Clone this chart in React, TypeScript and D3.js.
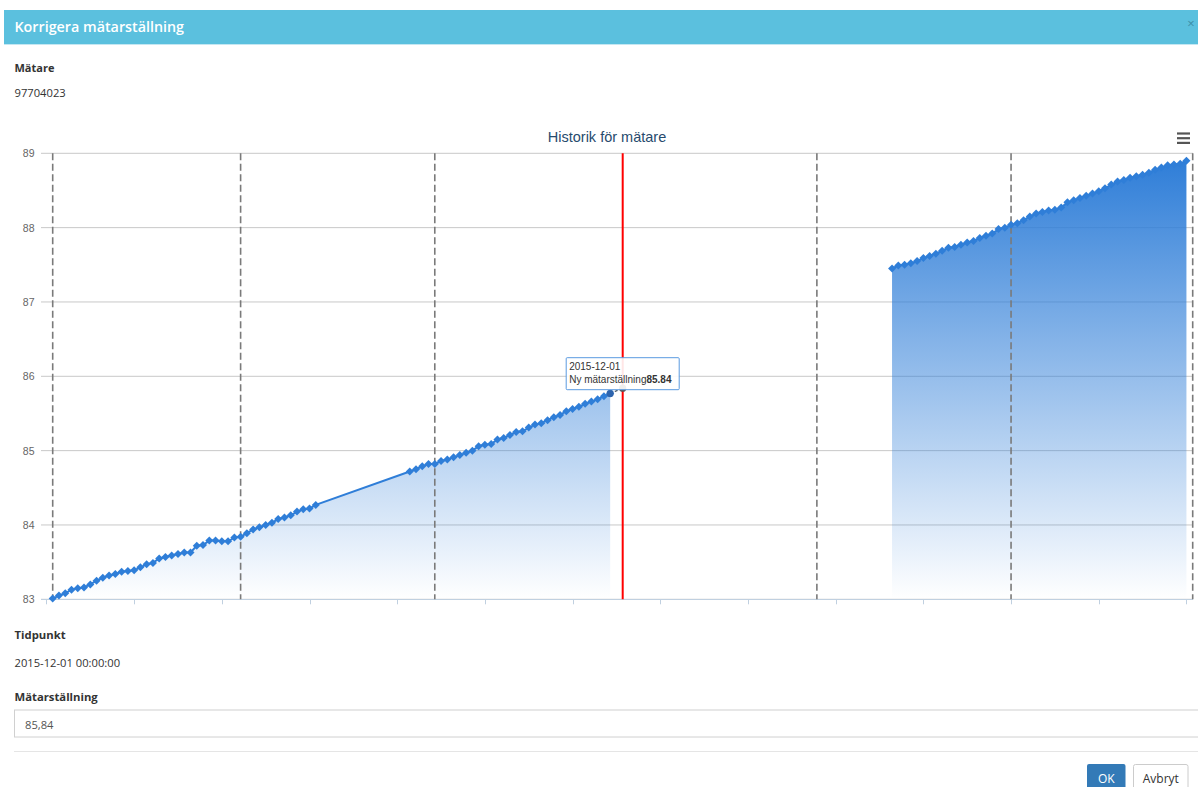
import React from 'react';
import * as d3 from 'd3';

const W = 1198;
const H = 787;

const dialogTitle = 'Korrigera mätarställning';
const meterLabel = 'Mätare';
const meterId = '97704023';
const timeLabel = 'Tidpunkt';
const timeValue = '2015-12-01 00:00:00';
const readingLabel = 'Mätarställning';
const readingInput = '85,84';
const okText = 'OK';
const cancelText = 'Avbryt';

const chartTitle = 'Historik för mätare';
const yTicks = [83, 84, 85, 86, 87, 88, 89];
const xDomain = ['2015-09-01', '2016-03-01'];
const monthLines = ['2015-09-01', '2015-10-01', '2015-11-01', '2016-01-01', '2016-02-01', '2016-03-01'];
const xTickDates = [
  '2015-08-31', '2015-09-14', '2015-09-28', '2015-10-12', '2015-10-26', '2015-11-09', '2015-11-23',
  '2015-12-07', '2015-12-21', '2016-01-04', '2016-01-18', '2016-02-01', '2016-02-15', '2016-02-29',
];

const selectedDate = '2015-12-01';
const newSeriesName = 'Ny mätarställning';
const newReadingValue = 85.84;

// daily readings, consecutive days from each start date
const seg1Start = '2015-09-01';
const seg1Values = [
  83.01, 83.05, 83.08, 83.13, 83.15, 83.16, 83.2, 83.25, 83.29, 83.32,
  83.34, 83.37, 83.38, 83.39, 83.43, 83.47, 83.49, 83.55, 83.57, 83.59,
  83.61, 83.63, 83.63, 83.72, 83.73, 83.79, 83.79, 83.78, 83.78, 83.83,
  83.84, 83.89, 83.94, 83.97, 84.0, 84.03, 84.08, 84.1, 84.13, 84.18,
  84.21, 84.22, 84.27,
];
const seg2Start = '2015-10-28';
const seg2Values = [
  84.72, 84.75, 84.79, 84.82, 84.82, 84.86, 84.88, 84.91, 84.94, 84.97,
  85.0, 85.06, 85.08, 85.09, 85.15, 85.17, 85.21, 85.25, 85.26, 85.31,
  85.35, 85.37, 85.41, 85.45, 85.48, 85.53, 85.56, 85.59, 85.63, 85.66,
  85.69, 85.73, 85.77,
];
const seg3Start = '2016-01-13';
const seg3Values = [
  87.45, 87.49, 87.5, 87.52, 87.55, 87.59, 87.62, 87.65, 87.69, 87.73,
  87.74, 87.77, 87.8, 87.82, 87.86, 87.89, 87.92, 87.98, 88.0, 88.04,
  88.06, 88.1, 88.15, 88.19, 88.21, 88.23, 88.24, 88.27, 88.34, 88.37,
  88.4, 88.43, 88.46, 88.49, 88.53, 88.58, 88.62, 88.64, 88.67, 88.69,
  88.71, 88.74, 88.78, 88.81, 88.84, 88.85, 88.86, 88.9,
];

type P = { d: Date; v: number };

const parse = d3.utcParse('%Y-%m-%d');
const toPts = (start: string, vals: number[]): P[] =>
  vals.map((v, i) => ({ d: d3.utcDay.offset(parse(start)!, i), v }));

const SERIES_COLOR = '#2f7ed8';
const CHART_FONT = '"Liberation Sans", Arial, sans-serif';
const UI_FONT = '"Open Sans", "Noto Sans", sans-serif';

export default function App() {
  const plotL = 41;
  const plotR = 1193;
  const plotT = 153.3;
  const plotB = 599.3;

  const x = d3
    .scaleUtc()
    .domain([parse(xDomain[0])!, parse(xDomain[1])!])
    .range([52.7, 1192.7]);
  const y = d3.scaleLinear().domain([83, 89]).range([plotB, plotT]);

  const mainPts = [...toPts(seg1Start, seg1Values), ...toPts(seg2Start, seg2Values)];
  const rightPts = toPts(seg3Start, seg3Values);
  const allPts = [...mainPts, ...rightPts];
  const topVal = d3.max(allPts, (p) => p.v)!;

  const area = d3
    .area<P>()
    .x((p) => x(p.d))
    .y0(y(83))
    .y1((p) => y(p.v));
  const line = d3
    .line<P>()
    .x((p) => x(p.d))
    .y((p) => y(p.v));

  const diamond = (cx: number, cy: number, r: number) =>
    `M${cx},${cy - r}L${cx + r},${cy}L${cx},${cy + r}L${cx - r},${cy}Z`;

  const lastMain = mainPts[mainPts.length - 1];
  const newPt: P = { d: parse(selectedDate)!, v: newReadingValue };
  const npx = x(newPt.d);
  const npy = y(newPt.v);

  const tipW = 113;
  const tipH = 32;
  const tipX = npx - 57;
  const tipY = npy - 31;

  return (
    <div style={{ position: 'absolute', left: 0, top: 0 }}>
      <svg width={W} height={H} style={{ display: 'block', background: '#fff' }}>
        <defs>
          <linearGradient
            id="areaGrad"
            gradientUnits="userSpaceOnUse"
            x1={0}
            y1={y(topVal)}
            x2={0}
            y2={y(83)}
          >
            <stop offset="0" stopColor={SERIES_COLOR} stopOpacity={1} />
            <stop offset="1" stopColor={SERIES_COLOR} stopOpacity={0} />
          </linearGradient>
        </defs>

        {/* dialog header */}
        <rect x={4} y={10} width={W - 4} height={34} fill="#5bc0de" />
        <rect x={4} y={44} width={W - 4} height={1} fill="#c4e7f2" />
        <text x={14.5} y={32.3} fill="#fff" fontFamily={UI_FONT} fontSize={14.3} fontWeight={600}>
          {dialogTitle}
        </text>
        <text x={1191} y={28} fill="#3b8fa7" fontFamily={UI_FONT} fontSize={13} textAnchor="middle">
          ×
        </text>

        <text x={14.5} y={71.5} fill="#333" fontFamily={UI_FONT} fontSize={11} fontWeight={700}>
          {meterLabel}
        </text>
        <text x={14.5} y={97} fill="#333" fontFamily={UI_FONT} fontSize={11.2}>
          {meterId}
        </text>

        {/* chart title */}
        <text
          x={(plotL + plotR) / 2 - 10}
          y={142}
          textAnchor="middle"
          fill="#274b6d"
          fontFamily={CHART_FONT}
          fontSize={14.5}
        >
          {chartTitle}
        </text>
        {/* context menu icon */}
        {[0, 1, 2].map((i) => (
          <line
            key={i}
            x1={1177}
            x2={1190}
            y1={133.5 + i * 4.7}
            y2={133.5 + i * 4.7}
            stroke="#555"
            strokeWidth={2.2}
          />
        ))}

        {/* horizontal grid */}
        {yTicks.map((t) => (
          <g key={t}>
            <line x1={plotL} x2={plotR} y1={y(t)} y2={y(t)} stroke="#c8c8c8" strokeWidth={1} />
            <text
              x={34.5}
              y={y(t) + 4}
              textAnchor="end"
              fill="#666"
              fontFamily={CHART_FONT}
              fontSize={10.5}
            >
              {t}
            </text>
          </g>
        ))}

        {/* x axis */}
        <line x1={plotL} x2={plotR} y1={plotB + 0.2} y2={plotB + 0.2} stroke="#c0d0e0" strokeWidth={1} />
        {xTickDates.map((t) => {
          const xx = Math.round(x(parse(t)!)) + 0.5;
          return <line key={t} x1={xx} x2={xx} y1={plotB} y2={plotB + 5} stroke="#c0d0e0" strokeWidth={1} />;
        })}

        {/* area fills */}
        <path d={area(mainPts)!} fill="url(#areaGrad)" />
        <path d={area(rightPts)!} fill="url(#areaGrad)" />

        {/* month plot lines */}
        {monthLines.map((m) => {
          const xx = x(parse(m)!);
          return (
            <line
              key={m}
              x1={xx}
              x2={xx}
              y1={plotT}
              y2={plotB}
              stroke="#7a7a7a"
              strokeWidth={1.6}
              strokeDasharray="7,3.5"
            />
          );
        })}

        {/* series lines */}
        <path d={line(mainPts)!} fill="none" stroke={SERIES_COLOR} strokeWidth={2} />
        <path d={line(rightPts)!} fill="none" stroke={SERIES_COLOR} strokeWidth={2} />
        {allPts.map((p, i) => (
          <path key={i} d={diamond(x(p.d), y(p.v), 4)} fill={SERIES_COLOR} />
        ))}

        {/* new reading series */}
        <path
          d={line([lastMain, newPt])!}
          fill="none"
          stroke="#3a4a5a"
          strokeWidth={1.2}
          strokeDasharray="3,2"
        />
        <circle cx={x(lastMain.d)} cy={y(lastMain.v)} r={3.6} fill="#2e64ad" />

        {/* selected date red line */}
        <line x1={npx} x2={npx} y1={plotT} y2={plotB} stroke="#ff0000" strokeWidth={2} />
        <circle cx={npx} cy={npy} r={3.6} fill="#555" />

        {/* tooltip */}
        <g>
          <rect
            x={tipX + 0.5}
            y={tipY + 0.5}
            width={tipW}
            height={tipH}
            fill="#fff"
            fillOpacity={0.9}
            stroke="#5b9ae0"
            strokeWidth={1}
            rx={1}
          />
          <text x={tipX + 3.5} y={tipY + 13} fill="#333" fontFamily={CHART_FONT} fontSize={10}>
            {selectedDate}
          </text>
          <text x={tipX + 3.5} y={tipY + 26} fill="#333" fontFamily={CHART_FONT} fontSize={10}>
            {newSeriesName}
            <tspan fontWeight={700}>{String(newReadingValue)}</tspan>
          </text>
        </g>

        {/* form below */}
        <text x={14.5} y={639} fill="#333" fontFamily={UI_FONT} fontSize={11.3} fontWeight={700}>
          {timeLabel}
        </text>
        <text x={14.5} y={666.5} fill="#333" fontFamily={UI_FONT} fontSize={11.2}>
          {timeValue}
        </text>
        <text x={14.5} y={700.5} fill="#333" fontFamily={UI_FONT} fontSize={11.3} fontWeight={700}>
          {readingLabel}
        </text>
        <rect x={14.5} y={710} width={W} height={27} fill="#fff" stroke="#d0d0d0" strokeWidth={1} />
        <text x={25} y={729} fill="#555" fontFamily={UI_FONT} fontSize={11.2}>
          {readingInput}
        </text>
        <rect x={14} y={751} width={W} height={1} fill="#e5e5e5" />

        <rect x={1087} y={764} width={38.5} height={30} fill="#337ab7" rx={2} />
        <text x={1106.3} y={783} textAnchor="middle" fill="#fff" fontFamily={UI_FONT} fontSize={12}>
          {okText}
        </text>
        <rect x={1133.5} y={764.5} width={54.5} height={30} fill="#fff" stroke="#cccccc" rx={2} />
        <text x={1160.8} y={783} textAnchor="middle" fill="#333" fontFamily={UI_FONT} fontSize={12}>
          {cancelText}
        </text>
      </svg>
    </div>
  );
}
